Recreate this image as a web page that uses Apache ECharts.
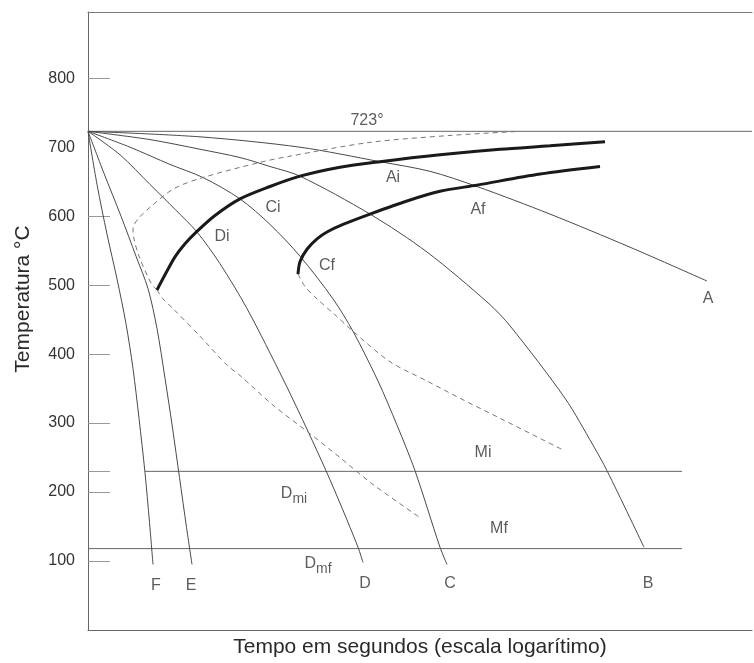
<!DOCTYPE html>
<html>
<head>
<meta charset="utf-8">
<script src="https://cdn.jsdelivr.net/npm/echarts@6/dist/echarts.min.js"></script>
<style>
html,body{margin:0;padding:0;background:#fff;}
#chart{width:754px;height:663px;}
</style>
</head>
<body>
<div id="chart"></div>
<script>
// x = log10(time) (arbitrary units, axis unlabeled), y = temperature in °C
const yTickLabels = [100, 200, 300, 400, 500, 600, 700, 800];
const yTickMarks = [100, 200, 230, 300, 400, 500, 600, 800];

const curveA = [[0,723],[1.12,715],[2.12,700],[2.92,679],[3.42,665],[3.89,643],[4.62,603],[5.42,555],[6.19,506]];
const curveB = [[0,723],[0.62,711],[1.12,697],[1.52,685],[1.82,672],[2.12,658],[2.82,603],[3.39,548],[4.01,473],[4.22,441],[4.77,336],[5.05,268],[5.19,231],[5.56,120]];
const curveC = [[0,723],[0.42,700],[0.82,675],[1.15,656],[1.52,625],[1.82,588],[2.12,542],[2.45,480],[2.65,433],[2.90,361],[3.09,297],[3.27,231],[3.52,120],[3.59,95]];
const curveD = [[0,723],[0.32,689],[0.62,646],[0.87,610],[1.09,577],[1.32,531],[1.59,466],[1.96,361],[2.20,288],[2.38,231],[2.54,177],[2.70,120],[2.75,98]];
const curveE = [[0,723],[0.16,662],[0.33,600],[0.48,542],[0.60,495],[0.69,437],[0.77,365],[0.845,293],[0.915,221],[0.985,149],[1.04,95]];
const curveF = [[0,723],[0.09,646],[0.19,574],[0.29,509],[0.38,444],[0.45,379],[0.51,307],[0.57,228],[0.615,156],[0.65,95]];

const startCurve = [[0.69,493],[0.77,515],[0.87,541],[0.97,560],[1.09,578],[1.27,601],[1.52,625],[1.82,643],[2.12,658],[2.52,671],[2.92,679],[3.52,689],[4.12,697],[4.62,702],[5.17,708]];
const finishCurve = [[2.10,516],[2.12,534],[2.19,552],[2.29,567],[2.39,577],[2.55,588],[2.82,603],[3.19,622],[3.52,636],[3.89,645],[4.52,661],[5.12,672]];

const dashedUpper = [[0.69,493],[0.63,503],[0.51,542],[0.46,567],[0.45,581],[0.50,596],[0.63,614],[0.86,640],[1.15,656],[1.72,678],[2.02,687],[2.82,707],[3.62,717],[4.32,723]];
const dashedLower1 = [[0.69,493],[0.75,480],[0.85,466],[1.12,426],[1.39,384],[1.52,369],[1.85,326],[2.19,288],[2.52,250],[2.85,211],[3.32,163]];
const dashedLower2 = [[2.10,516],[2.17,498],[2.29,480],[2.47,457],[2.65,433],[3.02,389],[3.39,361],[3.72,336],[4.12,307],[4.75,261]];

const line723 = [[0,723],[6.64,723]];
const lineMi = [[0.57,230],[5.94,230]];
const lineMf = [[0,118],[5.94,118]];

const labelNames = ['723°','Ai','Af','Ci','Di','Cf','A','Mi','Mf','Dmi','Dmf','F','E','D','C','B'];
const labelX = [2.79,3.05,3.90,1.85,1.34,2.39,6.20,3.95,4.11,2.06,2.30,0.68,1.03,2.77,3.62,5.60];
const labelY = [738,656,610,613,570,529,480,257,147,195,94,65,65,67,68,68];

const FONT = 'Liberation Sans, Arial, Helvetica, sans-serif';

function thin(name, data){
  return {name, type:'line', data, symbol:'none', smooth:0.3, silent:true,
    lineStyle:{color:'#4a4a4a', width:1}, z:2};
}
function thick(name, data){
  return {name, type:'line', data, symbol:'none', smooth:0.3, silent:true,
    lineStyle:{color:'#1a1a1a', width:3}, z:3};
}
function dashed(name, data){
  return {name, type:'line', data, symbol:'none', smooth:0.3, silent:true,
    lineStyle:{color:'#777', width:1, type:[5,4]}, z:2};
}
function hline(name, data){
  return {name, type:'line', data, symbol:'none', silent:true,
    lineStyle:{color:'#666', width:1}, z:1};
}

const labelData = labelNames.map((n,i)=>({value:[labelX[i],labelY[i]], name:n}));

const chart = echarts.init(document.getElementById('chart'), null, {renderer:'canvas'});
chart.setOption({
  animation:false,
  backgroundColor:'#fff',
  grid:{left:88, right:2, top:12, bottom:30},
  xAxis:[{
    type:'value', min:0, max:6.64,
    axisLine:{show:true, lineStyle:{color:'#666', width:1}},
    axisTick:{show:false}, axisLabel:{show:false}, splitLine:{show:false},
    name:'Tempo em segundos (escala logarítimo)', nameLocation:'middle', nameGap:7,
    nameTextStyle:{fontSize:21, color:'#2a2a2a', fontFamily:FONT, verticalAlign:'top'}
  },{
    type:'value', min:0, max:6.64, position:'top',
    axisLine:{show:true, lineStyle:{color:'#777', width:1}},
    axisTick:{show:false}, axisLabel:{show:false}, splitLine:{show:false}
  }],
  yAxis:{
    type:'value', min:0, max:896,
    axisLine:{show:true, lineStyle:{color:'#666', width:1}},
    axisTick:{show:true, inside:true, length:22, customValues:yTickMarks, lineStyle:{color:'#999', width:1}},
    axisLabel:{customValues:yTickLabels, fontSize:16, color:'#333', margin:13, fontFamily:FONT},
    splitLine:{show:false},
    name:'Temperatura °C', nameLocation:'middle', nameGap:54, nameRotate:90,
    nameTextStyle:{fontSize:21, color:'#2a2a2a', fontFamily:FONT, padding:[0,0,0,44]}
  },
  series:[
    hline('723', line723),
    hline('Mi', lineMi),
    hline('Mf', lineMf),
    thin('A', curveA), thin('B', curveB), thin('C', curveC),
    thin('D', curveD), thin('E', curveE), thin('F', curveF),
    dashed('dashedUpper', dashedUpper),
    dashed('dashedLower1', dashedLower1),
    dashed('dashedLower2', dashedLower2),
    thick('start', startCurve),
    thick('finish', finishCurve),
    {
      name:'labels', type:'scatter', data:labelData, symbolSize:0, silent:true, z:5,
      label:{
        show:true, position:'inside', color:'#333', fontSize:16, fontFamily:FONT,
        formatter:(p)=>{
          if(p.name==='Dmi') return '{b|D}{s|mi}';
          if(p.name==='Dmf') return '{b|D}{s|mf}';
          return p.name;
        },
        rich:{
          b:{fontSize:16, color:'#333', fontFamily:FONT, verticalAlign:'bottom', lineHeight:22, padding:[0,0,5,0]},
          s:{fontSize:14, color:'#333', fontFamily:FONT, verticalAlign:'bottom', lineHeight:22}
        }
      }
    }
  ]
});
</script>
</body>
</html>
